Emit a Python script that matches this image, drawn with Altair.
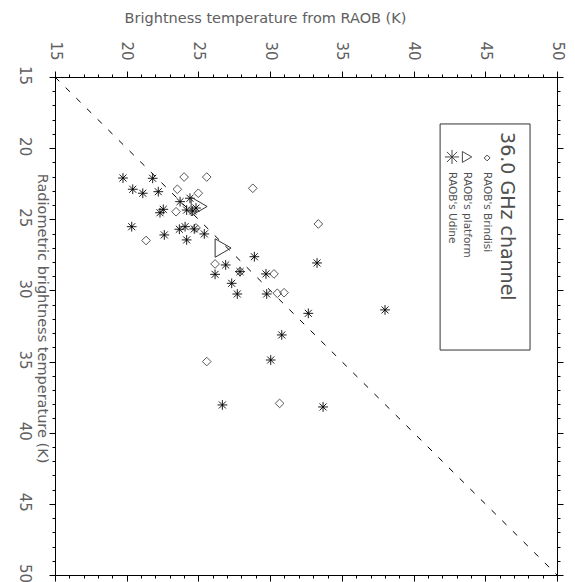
import altair as alt
import pandas as pd

# ---- data ----
udine_raob = [19.74, 21.81, 20.42, 21.12, 22.20, 22.55, 22.32, 23.72, 24.41, 24.18,
              24.60, 24.83, 20.35, 22.62, 23.67, 24.07, 24.71, 25.41, 24.18, 28.90,
              26.90, 26.16, 27.90, 27.32, 27.71, 29.71, 29.76, 32.66, 30.81, 30.04,
              26.67, 33.27, 38.01, 33.69]
udine_rad = [22.10, 22.12, 22.89, 23.17, 23.06, 24.30, 24.54, 23.76, 23.52, 24.35,
             24.42, 24.21, 25.52, 26.10, 25.70, 25.52, 25.68, 26.03, 26.45, 27.63,
             28.21, 28.87, 28.68, 29.50, 30.25, 28.84, 30.25, 31.61, 33.13, 34.89,
             38.05, 28.07, 31.37, 38.19]

brindisi_raob = [24.00, 25.58, 28.79, 23.53, 24.99, 23.44, 21.35, 24.83, 26.16, 27.90,
                 30.27, 30.50, 30.97, 25.58, 30.66, 33.36]
brindisi_rad = [22.03, 22.03, 22.82, 22.89, 23.17, 24.47, 26.49, 25.61, 28.14, 28.68,
                28.84, 30.20, 30.16, 35.00, 37.94, 25.33]

platform_raob = [25.05, 26.72]
platform_rad = [24.10, 27.02]

tick_values = list(range(15, 51))
diag_values = [15, 50]

legend_title = "36.0 GHz channel"
legend_labels = ["RAOB's Brindisi", "RAOB's platform", "RAOB's Udine"]
legend_col = [45.13, 43.73, 42.68]
legend_sym_y = [20.69, 20.62, 20.62]
legend_text_y = [21.68, 21.68, 21.68]
legend_box = {"x": 41.85, "x2": 48.12, "y": 18.30, "y2": 34.19}
legend_title_pos = {"x": 46.52, "y": 18.87}

# ---- tables ----
df_udine = pd.DataFrame({"raob": udine_raob, "rad": udine_rad})
df_brindisi = pd.DataFrame({"raob": brindisi_raob, "rad": brindisi_rad})
df_platform = pd.DataFrame({"raob": platform_raob, "rad": platform_rad})
df_diag = pd.DataFrame({"raob": diag_values, "rad": diag_values})
df_leg = pd.DataFrame({"lx": legend_col, "sy": legend_sym_y, "ty": legend_text_y,
                       "label": legend_labels})
df_box = pd.DataFrame([legend_box])
df_ltitle = pd.DataFrame([{**legend_title_pos, "label": legend_title}])

FONT = "DejaVu Sans"
GREY = "#606060"
xs = alt.Scale(domain=[15, 50], nice=False, zero=False)
ys = alt.Scale(domain=[15, 50], nice=False, zero=False, reverse=True)
major = "datum.value % 5 === 0"
tick_size = {"condition": {"test": major, "value": 6}, "value": 3}

x_top = alt.Axis(orient="top", values=tick_values, tickSize=tick_size,
                 labelExpr=f"{major} ? datum.label : ''", labelOverlap=False,
                 labelFlush=False, labelAngle=90, labelAlign="right",
                 labelBaseline="middle", labelPadding=11, labelFont=FONT,
                 labelFontSize=15, labelColor=GREY, grid=False,
                 domainColor="black", tickColor="black",
                 title="Brightness temperature from RAOB (K)", titleFont=FONT,
                 titleFontSize=14.5, titleFontWeight="normal", titleColor=GREY,
                 titleAngle=0, titleX=210, titleY=-59, titleAlign="center",
                 titleBaseline="middle")
y_left = alt.Axis(orient="left", values=tick_values, tickSize=tick_size,
                  labelExpr=f"{major} ? datum.label : ''", labelOverlap=False,
                  labelFlush=False, labelAngle=90, labelAlign="center",
                  labelBaseline="top", labelPadding=18, labelOffset=-2, labelFont=FONT,
                  labelFontSize=15, labelColor=GREY, grid=False,
                  domainColor="black", tickColor="black",
                  title="Radiometric brightness temperature (K)", titleFont=FONT,
                  titleFontSize=14.5, titleFontWeight="normal", titleColor=GREY,
                  titleAngle=90, titleX=-7, titleY=241, titleAlign="center",
                  titleBaseline="top")
x_bottom = alt.Axis(orient="bottom", values=tick_values, tickSize=tick_size,
                    labels=False, title=None, grid=False, domainColor="black",
                    tickColor="black")
y_right = alt.Axis(orient="right", values=tick_values, tickSize=tick_size,
                   labels=False, title=None, grid=False, domainColor="black",
                   tickColor="black")

star = "M0,-1L0,1M-1,0L1,0M-0.72,-0.72L0.72,0.72M-0.72,0.72L0.72,-0.72"

diag = alt.Chart(df_diag).mark_line(color="black", strokeWidth=1,
                                    strokeDash=[6, 9]).encode(
    x=alt.X("raob:Q", scale=xs, axis=x_bottom),
    y=alt.Y("rad:Q", scale=ys, axis=y_right),
)

udine = alt.Chart(df_udine).mark_point(shape=star, size=95, filled=False,
                                       stroke="black", strokeWidth=0.9,
                                       opacity=1).encode(
    x=alt.X("raob:Q", scale=xs, axis=x_top),
    y=alt.Y("rad:Q", scale=ys, axis=y_left),
)

brindisi = alt.Chart(df_brindisi).mark_point(shape="diamond", size=75, filled=False,
                                             stroke="#444444", strokeWidth=0.9,
                                             opacity=1).encode(
    x=alt.X("raob:Q", scale=xs, axis=None),
    y=alt.Y("rad:Q", scale=ys, axis=None),
)

platform = alt.Chart(df_platform).mark_point(shape="triangle-right", size=340,
                                             filled=False, stroke="#333333",
                                             strokeWidth=1, opacity=1).encode(
    x=alt.X("raob:Q", scale=xs, axis=None),
    y=alt.Y("rad:Q", scale=ys, axis=None),
)

box = alt.Chart(df_box).mark_rect(fill=None, stroke="#333333", strokeWidth=1).encode(
    x=alt.X("x:Q", scale=xs, axis=None), x2="x2:Q",
    y=alt.Y("y:Q", scale=ys, axis=None), y2="y2:Q",
)

ltitle = alt.Chart(df_ltitle).mark_text(angle=90, align="left", baseline="middle",
                                        font=FONT, fontSize=19, color="#505050").encode(
    x=alt.X("x:Q", scale=xs, axis=None),
    y=alt.Y("y:Q", scale=ys, axis=None),
    text="label:N",
)

ltext = alt.Chart(df_leg).mark_text(angle=90, align="left", baseline="middle",
                                    font=FONT, fontSize=10.5, color="#505050").encode(
    x=alt.X("lx:Q", scale=xs, axis=None),
    y=alt.Y("ty:Q", scale=ys, axis=None),
    text="label:N",
)

leg_sym = alt.Chart(df_leg).mark_point(filled=False, opacity=1, stroke="#333333",
                                       strokeWidth=0.9).encode(
    x=alt.X("lx:Q", scale=xs, axis=None),
    y=alt.Y("sy:Q", scale=ys, axis=None),
    shape=alt.Shape("label:N", scale=alt.Scale(domain=legend_labels,
                                               range=["diamond", "triangle-right", star]),
                    legend=None),
    size=alt.Size("label:N", scale=alt.Scale(domain=legend_labels, range=[35, 200, 45]),
                  legend=None),
)

chart = alt.layer(diag, brindisi, udine, platform, box, ltitle, ltext, leg_sym).resolve_axis(
    x="independent", y="independent"
).properties(
    width=502, height=498,
    autosize=alt.AutoSizeParams(type="none"),
    padding={"left": 55, "top": 77, "right": 18, "bottom": 7},
).configure_view(stroke=None).configure(background="white")

chart.save("out.html", embed_options={"renderer": "svg", "actions": False})
